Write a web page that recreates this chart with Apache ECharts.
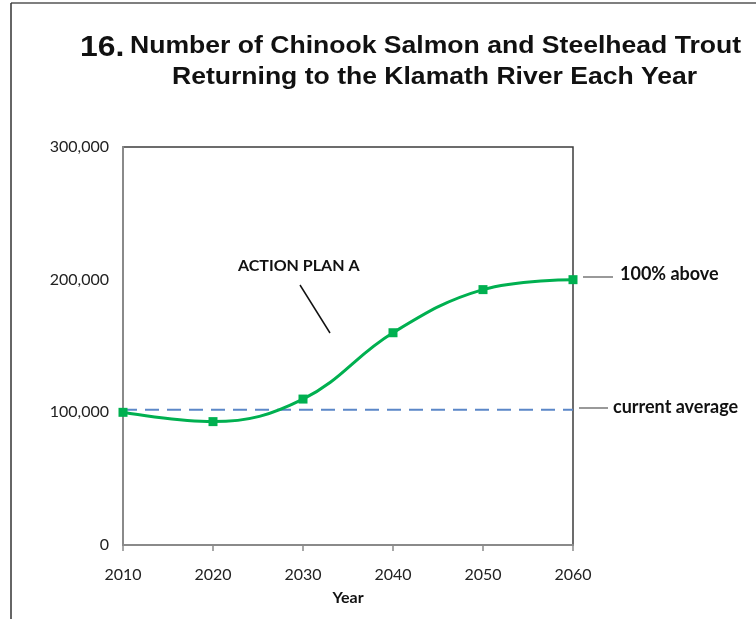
<!DOCTYPE html>
<html>
<head>
<meta charset="utf-8">
<script src="https://cdn.jsdelivr.net/npm/echarts@6/dist/echarts.min.js"></script>
<style>
html,body{margin:0;padding:0;background:#fff;}
#chart{width:756px;height:619px;}
</style>
</head>
<body>
<div id="chart"></div>
<script>
// Data
var years = [2010, 2020, 2030, 2040, 2050, 2060];
var planA = [100000, 93000, 110000, 160000, 192500, 200000];
var currentAverageYears = [2010, 2060];
var currentAverage = [102000, 102000];
var yTicks = [0, 100000, 200000, 300000];
var titleNumber = '16.';
var titleLine1 = 'Number of Chinook Salmon and Steelhead Trout';
var titleLine2 = 'Returning to the Klamath River Each Year';

var chart = echarts.init(document.getElementById('chart'));

var lineData = years.map(function (y, i) { return [y, planA[i]]; });
var avgData = currentAverageYears.map(function (y, i) { return [y, currentAverage[i]]; });

var option = {
  backgroundColor: '#ffffff',
  animation: false,
  grid: {
    left: 123, right: 183, top: 147, bottom: 74,
    show: true, borderColor: '#3c3c3c', borderWidth: 1.5, backgroundColor: 'transparent'
  },
  xAxis: {
    type: 'value', min: 2010, max: 2060, interval: 10,
    name: 'Year', nameLocation: 'middle', nameGap: 45,
    nameTextStyle: { fontFamily: 'Lato', fontWeight: 'bold', fontSize: 16, color: '#111' },
    axisLine: { show: true, lineStyle: { color: '#8a8a8a', width: 2 } },
    axisTick: { show: true, length: 6, lineStyle: { color: '#8a8a8a', width: 1.5 } },
    axisLabel: { fontFamily: 'Lato', fontSize: 16, color: '#222', margin: 22,
      formatter: function (v) { return String(v); } },
    splitLine: { show: false }
  },
  yAxis: {
    type: 'value', min: 0, max: 300000, interval: 100000,
    axisLine: { show: true, lineStyle: { color: '#8a8a8a', width: 2 } },
    axisTick: { show: false },
    axisLabel: { fontFamily: 'Lato', fontSize: 16, color: '#222', margin: 14,
      formatter: function (v) { return yTicks.indexOf(v) >= 0 ? v.toLocaleString('en-US') : ''; } },
    splitLine: { show: false }
  },
  series: [
    {
      type: 'line', data: avgData, symbol: 'none',
      lineStyle: { color: '#5b87c8', width: 2, type: [14, 8] },
      z: 2
    },
    {
      type: 'line', data: lineData, smooth: 0.4,
      symbol: 'rect', symbolSize: 9,
      itemStyle: { color: '#00b050' },
      lineStyle: { color: '#00b050', width: 3 },
      z: 3
    }
  ],
  graphic: [
    { type: 'line', shape: { x1: 11, y1: 3, x2: 756, y2: 3 }, style: { stroke: '#555', lineWidth: 1.5 } },
    { type: 'line', shape: { x1: 11, y1: 3, x2: 11, y2: 619 }, style: { stroke: '#333', lineWidth: 1.5 } },
    { type: 'text', x: 80, y: 33, scaleX: 1.1, style: { text: titleNumber, font: 'bold 29px "Liberation Sans"', fill: '#111', textVerticalAlign: 'top' } },
    { type: 'text', x: 130, y: 34, scaleX: 1.107, style: { text: titleLine1, font: 'bold 24px "Liberation Sans"', fill: '#111', textVerticalAlign: 'top' } },
    { type: 'text', x: 172, y: 65, scaleX: 1.106, style: { text: titleLine2, font: 'bold 24px "Liberation Sans"', fill: '#111', textVerticalAlign: 'top' } },
    { type: 'text', left: 238, top: 258, style: { text: 'ACTION PLAN A', font: 'bold 16px Lato', fill: '#111' } },
    { type: 'line', shape: { x1: 300, y1: 285, x2: 330, y2: 333 }, style: { stroke: '#111', lineWidth: 1.5 } },
    { type: 'text', left: 620, top: 265, style: { text: '100% above', font: 'bold 18px Lato', fill: '#111' } },
    { type: 'line', shape: { x1: 583, y1: 277, x2: 613, y2: 277 }, style: { stroke: '#555', lineWidth: 1.2 } },
    { type: 'text', left: 613, top: 398, style: { text: 'current average', font: 'bold 18px Lato', fill: '#111' } },
    { type: 'line', shape: { x1: 579, y1: 408, x2: 608, y2: 408 }, style: { stroke: '#555', lineWidth: 1.2 } }
  ]
};
chart.setOption(option);
</script>
</body>
</html>
